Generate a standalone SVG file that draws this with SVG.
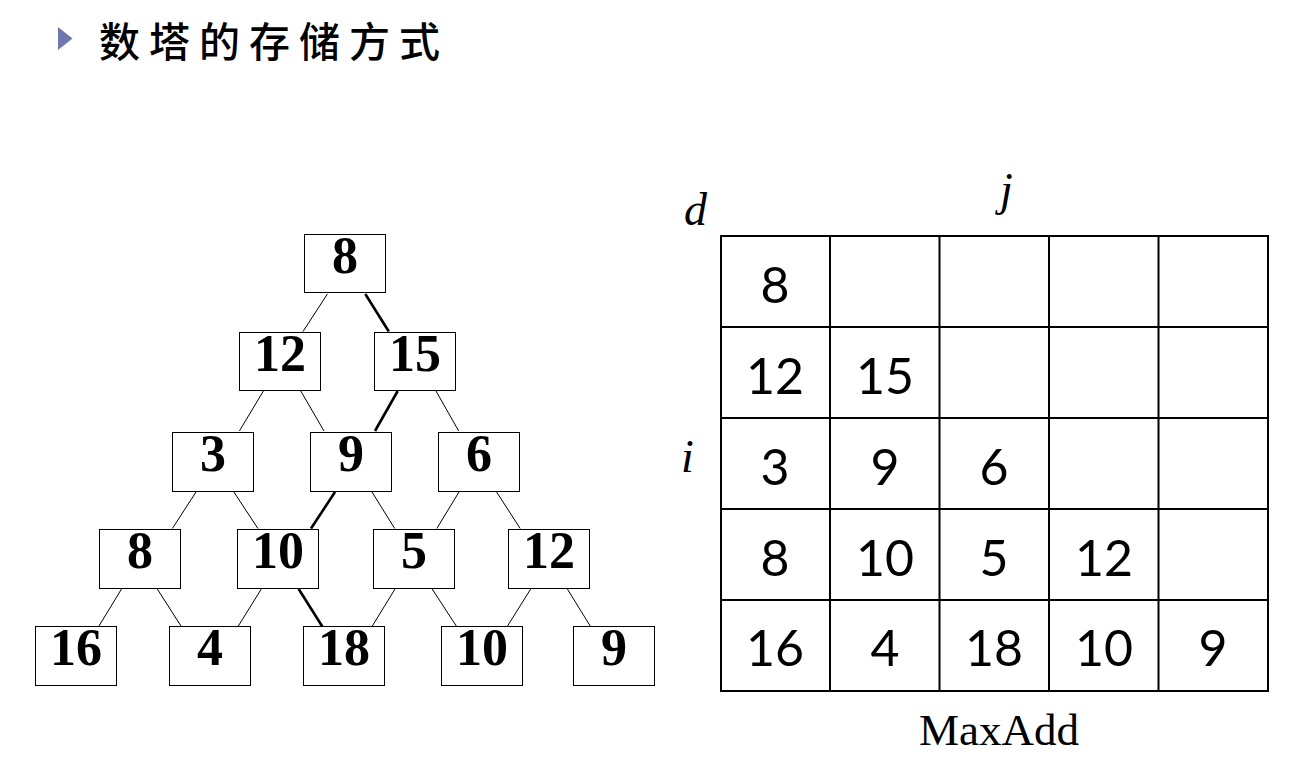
<svg xmlns="http://www.w3.org/2000/svg" width="1296" height="766" viewBox="0 0 1296 766">
<style>
.box{fill:#fff;stroke:#000;stroke-width:1}
.num{font-family:"Liberation Serif",serif;font-weight:bold;font-size:52px;text-anchor:middle;fill:#000}
.thin{stroke:#000;stroke-width:1;fill:none}
.thick{stroke:#000;stroke-width:2.6;fill:none}
.cell{fill:#fff;stroke:#000;stroke-width:2}
.gnum{font-family:Lato,"Liberation Sans",sans-serif;font-size:50px;text-anchor:middle;fill:#000}
.ital{font-family:"Liberation Serif",serif;font-style:italic;font-size:46px;fill:#000}
</style>
<rect width="1296" height="766" fill="#fff"/>
<g id="title">
<polygon points="58,27 72.5,38.5 58,50" fill="#6e78ae"/>
<text x="99" y="57" font-family="'Noto Sans CJK SC',sans-serif" font-size="41" font-weight="500" letter-spacing="9" fill="#000">数塔的存储方式</text>
</g>
<g id="connectors">
<line class="thin" x1="327.4" y1="294" x2="303" y2="331.5"/>
<line class="thick" x1="365.3" y1="294" x2="388.8" y2="331.5"/>
<line class="thin" x1="263.4" y1="391" x2="239.4" y2="431"/>
<line class="thin" x1="300.8" y1="391" x2="324" y2="431"/>
<line class="thick" x1="397.7" y1="391" x2="375" y2="431"/>
<line class="thin" x1="436" y1="391" x2="458.7" y2="431"/>
<line class="thin" x1="196" y1="492" x2="172.4" y2="528.5"/>
<line class="thin" x1="233.9" y1="492" x2="257.9" y2="528.5"/>
<line class="thick" x1="335" y1="492" x2="311" y2="528.5"/>
<line class="thin" x1="372" y1="492" x2="394.7" y2="528.5"/>
<line class="thin" x1="459" y1="492" x2="436.8" y2="528.5"/>
<line class="thin" x1="496.6" y1="492" x2="520.2" y2="528.5"/>
<line class="thin" x1="121.5" y1="589" x2="98.7" y2="626.5"/>
<line class="thin" x1="157.3" y1="589" x2="181.3" y2="626.5"/>
<line class="thin" x1="261.3" y1="589" x2="238" y2="626.5"/>
<line class="thick" x1="298.7" y1="589" x2="322.3" y2="626.5"/>
<line class="thin" x1="395" y1="589" x2="372" y2="626.5"/>
<line class="thin" x1="432.2" y1="589" x2="456.6" y2="626.5"/>
<line class="thin" x1="530.7" y1="589" x2="507.2" y2="626.5"/>
<line class="thin" x1="567.4" y1="589" x2="590.5" y2="626.5"/>
</g>
<g id="n0"><rect class="box" x="304.5" y="234.5" width="81" height="58"/><text class="num" x="345" y="273">8</text></g>
<g id="n1a"><rect class="box" x="239.5" y="332.5" width="81" height="58"/><text class="num" x="280" y="371">12</text></g>
<g id="n1b"><rect class="box" x="374.5" y="332.5" width="81" height="58"/><text class="num" x="415" y="371">15</text></g>
<g id="n2a"><rect class="box" x="172.5" y="432.5" width="81" height="59"/><text class="num" x="213" y="471">3</text></g>
<g id="n2b"><rect class="box" x="310.5" y="432.5" width="81" height="59"/><text class="num" x="351" y="471">9</text></g>
<g id="n2c"><rect class="box" x="438.5" y="432.5" width="81" height="59"/><text class="num" x="479" y="471">6</text></g>
<g id="n3a"><rect class="box" x="99.5" y="529.5" width="81" height="59"/><text class="num" x="140" y="568">8</text></g>
<g id="n3b"><rect class="box" x="237.5" y="529.5" width="81" height="59"/><text class="num" x="278" y="568">10</text></g>
<g id="n3c"><rect class="box" x="373.5" y="529.5" width="81" height="59"/><text class="num" x="414" y="568">5</text></g>
<g id="n3d"><rect class="box" x="508.5" y="529.5" width="81" height="59"/><text class="num" x="549" y="568">12</text></g>
<g id="n4a"><rect class="box" x="35.5" y="626.5" width="81" height="59"/><text class="num" x="76" y="665">16</text></g>
<g id="n4b"><rect class="box" x="169.5" y="626.5" width="81" height="59"/><text class="num" x="210" y="665">4</text></g>
<g id="n4c"><rect class="box" x="303.5" y="626.5" width="81" height="59"/><text class="num" x="344" y="665">18</text></g>
<g id="n4d"><rect class="box" x="441.5" y="626.5" width="81" height="59"/><text class="num" x="482" y="665">10</text></g>
<g id="n4e"><rect class="box" x="573.5" y="626.5" width="81" height="59"/><text class="num" x="614" y="665">9</text></g>
<g id="table">
<rect class="cell" x="721" y="236" width="547" height="455"/>
<path d="M830,236V691M939.5,236V691M1049,236V691M1158.5,236V691M721,327H1268M721,418H1268M721,509H1268M721,600H1268" stroke="#000" stroke-width="2" fill="none"/>
<text class="gnum" x="775" y="303">8</text>
<text class="gnum" x="775" y="394">12</text>
<text class="gnum" x="885" y="394">15</text>
<text class="gnum" x="775" y="485">3</text>
<text class="gnum" x="885" y="485">9</text>
<text class="gnum" x="994" y="485">6</text>
<text class="gnum" x="775" y="576">8</text>
<text class="gnum" x="885" y="576">10</text>
<text class="gnum" x="994" y="576">5</text>
<text class="gnum" x="1104" y="576">12</text>
<text class="gnum" x="775" y="666">16</text>
<text class="gnum" x="885" y="666">4</text>
<text class="gnum" x="994" y="666">18</text>
<text class="gnum" x="1104" y="666">10</text>
<text class="gnum" x="1213" y="666">9</text>
</g>
<g id="labels">
<text class="ital" x="684" y="225">d</text>
<text class="ital" x="1000" y="205">j</text>
<text class="ital" x="681" y="472">i</text>
<text x="999" y="745" font-family="'Liberation Serif',serif" font-size="45" text-anchor="middle" fill="#000">MaxAdd</text>
</g>
</svg>
